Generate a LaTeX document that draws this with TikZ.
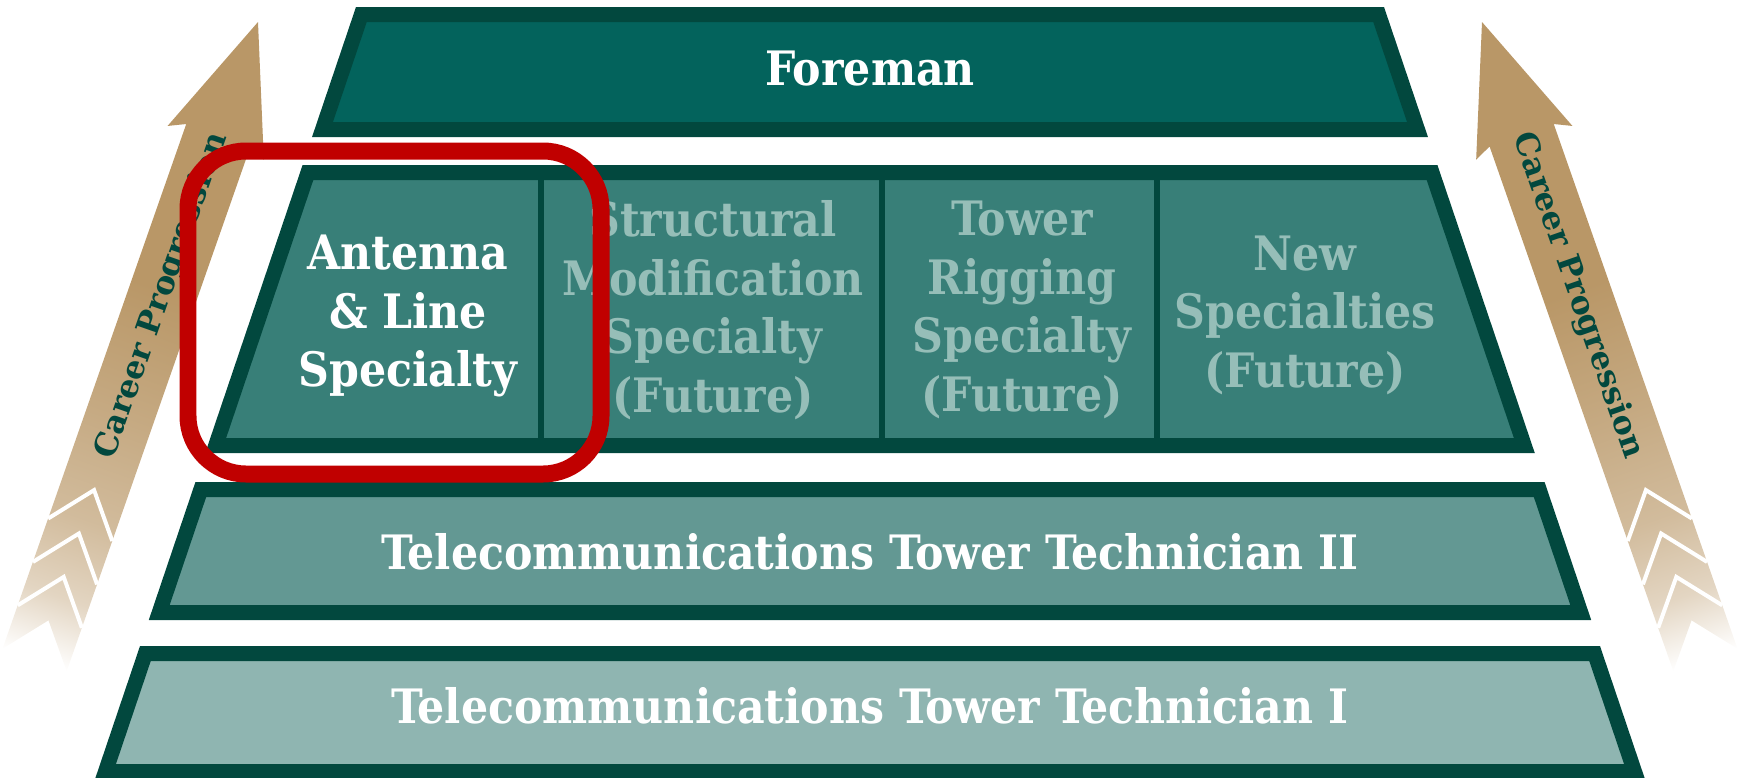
\documentclass[tikz,border=0pt]{standalone}
\usepackage{fontspec}
\newfontfamily\slabfont{DejaVu Serif Condensed}
\newfontfamily\arrowfont{DejaVu Serif}
\definecolor{tierline}{HTML}{02483E}
\definecolor{foremanfill}{HTML}{03635C}
\definecolor{specfill}{HTML}{387F78}
\definecolor{techtwofill}{HTML}{639893}
\definecolor{techonefill}{HTML}{8FB5B1}
\definecolor{futuregrey}{HTML}{96BEB8}
\definecolor{arrowtan}{HTML}{B99767}
\definecolor{highlight}{HTML}{C00000}
\pgfdeclareverticalshading{careerfade}{100bp}{color(0bp)=(white); color(25bp)=(white); color(30bp)=(arrowtan!40); color(36bp)=(arrowtan!65); color(44bp)=(arrowtan!82); color(54bp)=(arrowtan); color(100bp)=(arrowtan)}
\tikzset{
  every picture/.style={line join=miter},
  tier/.style={draw=tierline, line width=0.3cm},
  divider/.style={draw=tierline, line width=0.12cm},
  tiertext/.style={text=white, font=\slabfont\bfseries\fontsize{27}{33.3}\selectfont, align=center, inner sep=0pt},
  futuretext/.style={tiertext, text=futuregrey},
  careerarrow/.style={shading=careerfade},
  chevron/.style={draw=white, line width=0.08cm},
  careertext/.style={text=tierline, font=\arrowfont\bfseries\fontsize{18}{20}\selectfont, inner sep=0pt},
  redbox/.style={draw=highlight, line width=0.34cm, rounded corners=1.16cm},
}

\begin{document}
\begin{tikzpicture}[x=0.02cm,y=-0.02cm]
\useasboundingbox (0,0) rectangle (1739,778);
\foreach \yt/\yb/\c in {7/137/foremanfill,165/453/specfill,482/620/techtwofill,646/779/techonefill}
  \filldraw[tier, fill=\c] ({363.9-0.338*(\yt+0.5)},\yt+7.5) -- ({1376.1+0.338*(\yt+0.5)},\yt+7.5)
    -- ({1376.1+0.338*(\yb-14.5)},\yb-7.5) -- ({363.9-0.338*(\yb-14.5)},\yb-7.5) -- cycle;
\foreach \x in {541,882,1157}
  \draw[divider] (\x,180) -- (\x,438);
\node[tiertext] (foreman) at (870,69) {Foreman};
\node[tiertext] (antenna) at (408,316) {Antenna\\\& Line\\Specialty};
\node[futuretext] (structural) at (713,310) {Structural\\Modification\\Specialty\\(Future)};
\node[futuretext] (rigging) at (1022,310) {Tower\\Rigging\\Specialty\\(Future)};
\node[futuretext] (newspec) at (1305,315) {New\\Specialties\\(Future)};
\node[tiertext] (techtwo) at (870,552) {Telecommunications Tower Technician II};
\node[tiertext] (techone) at (870,706) {Telecommunications Tower Technician I};
\begin{scope}[overlay, transform canvas={shift={(258,22)}, rotate=-19.3}]
  \shade[careerarrow] (0,0) -- (51,128) -- (34,120) -- (34,676) -- (0,634) -- (-34,676) -- (-34,120) -- (-51,128) -- cycle;
  \foreach \u in {538,584,630}
    \draw[chevron] (-34,\u) -- (0,\u-42) -- (34,\u);
  \node[careertext, rotate=90] (leftlabel) at (0,290) {Career Progression};
\end{scope}
\begin{scope}[overlay, transform canvas={shift={(1482,22)}, rotate=19.3}]
  \shade[careerarrow] (0,0) -- (51,128) -- (34,120) -- (34,676) -- (0,634) -- (-34,676) -- (-34,120) -- (-51,128) -- cycle;
  \foreach \u in {538,584,630}
    \draw[chevron] (-34,\u) -- (0,\u-42) -- (34,\u);
  \node[careertext, rotate=-90] (rightlabel) at (0,290) {Career Progression};
\end{scope}
\draw[redbox] (188,151) rectangle (601,474);
\end{tikzpicture}
\end{document}
